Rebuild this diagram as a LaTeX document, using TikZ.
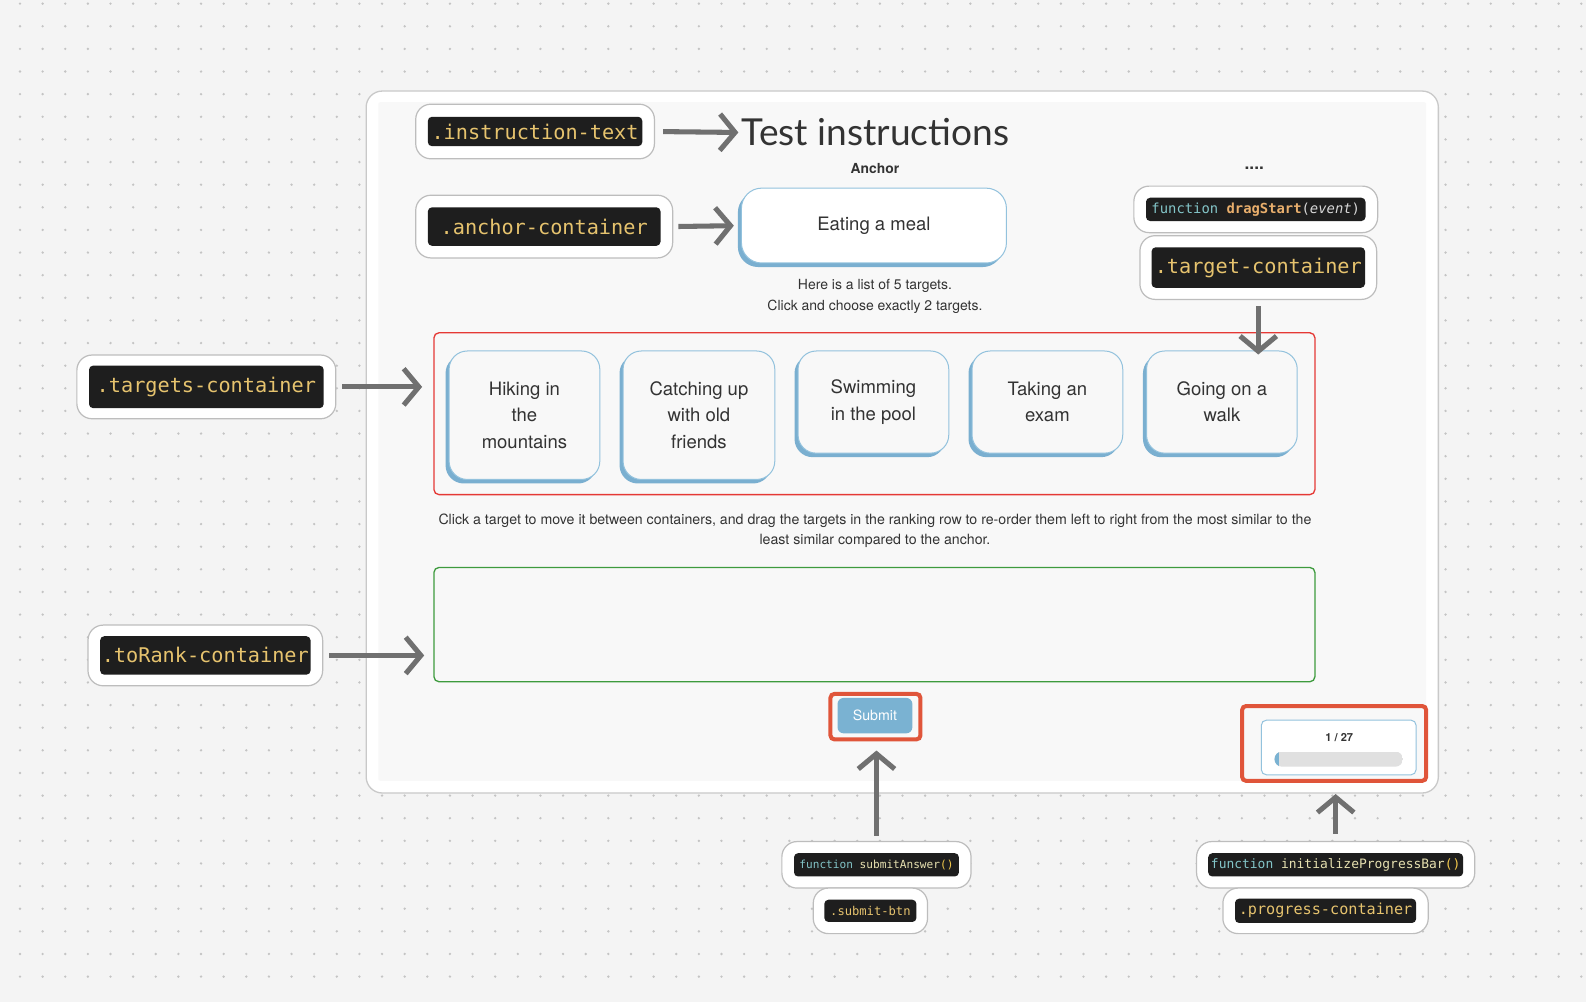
\documentclass[tikz,border=0pt]{standalone}
\usepackage{fontspec}
\setmainfont{TeX Gyre Heros}
\newfontfamily\latofont{Lato}
\newfontfamily\codefont{DejaVu Sans Mono}
\usetikzlibrary{arrows.meta,shadows}
\definecolor{bgc}{HTML}{F4F4F4}
\definecolor{dotc}{HTML}{C4C4C4}
\definecolor{framec}{HTML}{C9C9C9}
\definecolor{panelc}{HTML}{F8F8F8}
\definecolor{lblborder}{HTML}{BDBDBD}
\definecolor{codebg}{HTML}{1E1E1E}
\definecolor{codeyel}{HTML}{E6C36E}
\definecolor{codeteal}{HTML}{83C5C8}
\definecolor{codeorange}{HTML}{E8AE6C}
\definecolor{codelight}{HTML}{D8D8D8}
\definecolor{codepale}{HTML}{E6E0B0}
\definecolor{codebright}{HTML}{F2C84B}
\definecolor{arrc}{HTML}{707070}
\definecolor{tborder}{HTML}{93C2DD}
\definecolor{tshadow}{HTML}{7AAFD0}
\definecolor{redc}{HTML}{E53935}
\definecolor{greenc}{HTML}{3E9B3E}
\definecolor{redframe}{HTML}{E0553A}
\definecolor{btnc}{HTML}{7AB2D2}
\definecolor{txtc}{HTML}{333333}
\definecolor{barc}{HTML}{E0E0E0}
\newcommand\cfs[1]{\codefont\fontsize{#1}{#1}\selectfont}
\newcommand\tfs[1]{\fontsize{#1}{#1}\selectfont}
\newcommand\mklab[7]{%
  \node[outerlab, minimum width=#3pt, minimum height=#4pt] (#1) at (#2) {};
  \node[innerlab, minimum width=#5pt, minimum height=#6pt] (#1in) at (#2) {#7};
}
\tikzset{
  outerlab/.style={draw=lblborder, fill=white, line width=1.2pt, rounded corners=15pt, inner sep=0pt},
  innerlab/.style={fill=codebg, rounded corners=4pt, text=codeyel, inner sep=0pt},
  arr/.style={draw=arrc, line width=5pt, -{Straight Barb[length=15pt, width=36pt]}},
  tbox/.style={draw=tborder, line width=1pt, fill=panelc, rounded corners=18pt,
    general shadow={fill=tshadow, shadow xshift=-3.5pt, shadow yshift=-4pt},
    text=txtc, align=center, font=\fontsize{18.3}{26}\selectfont, inner sep=0pt},
  plaintext/.style={text=txtc, inner sep=0pt, align=center},
  container/.style={line width=1.3pt, rounded corners=5pt, inner sep=0pt},
}
\begin{document}
\begin{tikzpicture}[x=1pt,y=-1pt]
\useasboundingbox (0,0) rectangle (1568,991);
\fill[bgc] (0,0) rectangle (1568,991);
\foreach \i in {0,...,69}{
  \foreach \j in {0,...,43}{
    \fill[dotc] ({19.8+\i*22.37},{3.6+\j*22.37}) circle (1.3pt);
  }
}
% main frame
\node[draw=framec, fill=white, line width=1.3pt, rounded corners=16pt, minimum width=1060pt, minimum height=694pt, inner sep=0pt] (frame) at (892,437) {};
\node[fill=panelc, rounded corners=2pt, minimum width=1036pt, minimum height=671pt, inner sep=0pt] (panel) at (892,436.5) {};

% title and texts
\node[anchor=west, inner sep=0pt, text=txtc, font=\latofont\tfs{36.7}] (title) at (733,131) {Test instructions};
\node[plaintext, font=\bfseries\tfs{13.7}] (anchorlbl) at (865,167) {Anchor};
\node[plaintext, font=\bfseries\tfs{17}] (dots) at (1240,166) {....};
\node[tbox, fill=white, minimum width=262pt, minimum height=74pt, rounded corners=20pt] (anchorbox) at (864,223) {Eating a meal};
\node[plaintext, font=\fontsize{13.8}{20}\selectfont] (here) at (865,293) {Here is a list of 5 targets.\\Click and choose exactly 2 targets.};

% targets container
\node[container, draw=redc, minimum width=871pt, minimum height=160pt] (tcont) at (864.5,409) {};
\node[tbox, minimum width=149pt, minimum height=127pt] (t1) at (518.5,410.5) {Hiking in\\the\\mountains};
\node[tbox, minimum width=150pt, minimum height=127pt] (t2) at (691,410.5) {Catching up\\with old\\friends};
\node[tbox, minimum width=149pt, minimum height=101pt] (t3) at (863.5,397.5) {Swimming\\in the pool};
\node[tbox, minimum width=149pt, minimum height=101pt] (t4) at (1035.5,397.5) {Taking an\\exam};
\node[tbox, minimum width=149pt, minimum height=101pt] (t5) at (1208,397.5) {Going on a\\walk};

\node[plaintext, font=\fontsize{14}{20}\selectfont] (clk) at (865,525) {Click a target to move it between containers, and drag the targets in the ranking row to re-order them left to right from the most similar to the\\least similar compared to the anchor.};

% ranking container
\node[container, draw=greenc, minimum width=871pt, minimum height=113pt] (rcont) at (864.5,617.5) {};

% submit
\node[draw=redframe, line width=4pt, rounded corners=4pt, minimum width=89pt, minimum height=45pt, inner sep=0pt] (sbf) at (865.5,708.5) {};
\node[fill=btnc, rounded corners=6pt, minimum width=74pt, minimum height=35pt, inner sep=0pt, text=white, font=\tfs{14}] (sb) at (865,707.5) {Submit};

% progress
\node[draw=redframe, line width=4pt, rounded corners=4pt, minimum width=182pt, minimum height=74pt, inner sep=0pt] (pf) at (1319,735) {};
\node[draw=tborder, fill=white, line width=1pt, rounded corners=5pt, minimum width=153pt, minimum height=54pt, inner sep=0pt] (pb) at (1323.5,739) {};
\node[plaintext, text=txtc, font=\bfseries\tfs{11}] (pcount) at (1324,729) {1 / 27};
\begin{scope}
  \clip[rounded corners=7.5pt] (1260,743) rectangle (1387,758);
  \fill[barc] (1260,743) rectangle (1387,758);
  \fill[btnc] (1260,743) rectangle (1264,758);
\end{scope}

% labels
\mklab{lI}{529,130}{236}{54}{212}{29}{\cfs{20}.instruction-text}
\mklab{lA}{538,224}{254}{62}{230}{38}{\cfs{20}.anchor-container}
\mklab{lT}{204,382.5}{256}{63}{232}{42}{\cfs{20}.targets-container}
\mklab{lR}{203,648}{232}{60}{208}{38}{\cfs{20}.toRank-container}
\mklab{lD}{1241.5,207}{241}{46}{217}{23}{\cfs{13.7}\textcolor{codeteal}{function} \textcolor{codeorange}{\bfseries dragStart}\textcolor{codelight}{(\itshape event\upshape)}}
\mklab{lC}{1244,264.5}{234}{63}{211}{40}{\cfs{20}.target-container}
\mklab{lS}{866.5,855}{187}{46}{163}{23}{\cfs{11}\textcolor{codeteal}{function} \textcolor{codepale}{submitAnswer}\textcolor{codebright}{()}}
\mklab{lB}{860.5,900.5}{113}{45}{91}{22}{\cfs{12}.submit-btn}
\mklab{lP}{1320.5,855}{275}{46}{252}{23}{\cfs{12.8}\textcolor{codeteal}{function} \textcolor{codepale}{initializeProgressBar}\textcolor{codebright}{()}}
\mklab{lG}{1310.5,900.5}{203}{45}{179}{24}{\cfs{15}.progress-container}

% arrows
\draw[arr, shorten <=8pt, shorten >=3pt] (lI.east) -- (title.west);
\draw[arr, shorten <=5pt, shorten >=7pt] (lA.east) -- (anchorbox.west);
\draw[arr, shorten <=6pt, shorten >=11pt] (lT.east) -- (lT.east -| tcont.west);
\draw[arr, shorten <=6pt, shorten >=9pt] (lR.east) -- (lR.east -| rcont.west);
\draw[arr, shorten <=6pt, shorten >=-4pt] (lC.south) -- (lC.south |- t5.north);
\draw[arr, shorten <=5pt, shorten >=9pt] (lS.north) -- (lS.north |- sbf.south);
\draw[arr, shorten <=7pt, shorten >=11pt] (lP.north) -- (lP.north |- pf.south);
\end{tikzpicture}
\end{document}
